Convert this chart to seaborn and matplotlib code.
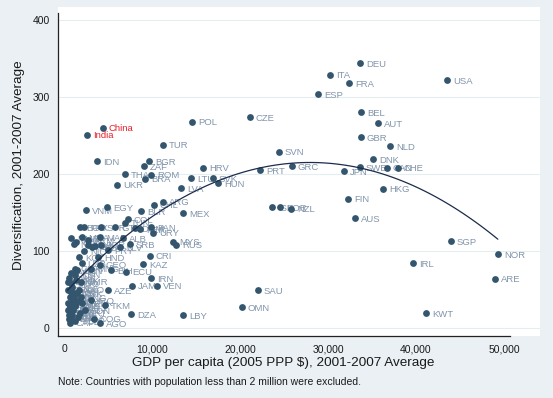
import matplotlib
matplotlib.use("Agg")
import matplotlib.pyplot as plt
import pandas as pd
import seaborn as sns

# country codes, GDP per capita (2005 PPP $) and diversification
codes = ["DEU", "ITA", "FRA", "USA", "ESP", "CZE", "BEL", "AUT", "GBR", "NLD",
         "SVN", "DNK", "PRT", "GRC", "JPN", "SWE", "CAN", "CHE", "HKG", "FIN",
         "AUS", "ISR", "KOR", "NZL", "SGP", "NOR", "IRL", "ARE", "SAU", "OMN",
         "KWT", "POL", "TUR", "BGR", "ZAF", "THA", "ROM", "BRA", "UKR", "HRV",
         "LTU", "SVK", "HUN", "LVA", "MEX", "ARG", "CHL", "BLR", "VNM", "EGY",
         "China", "India", "IDN", "MYS", "RUS", "CRI", "HND", "KAZ", "IRN", "VEN",
         "JAM", "AZE", "ECU", "DZA", "LBY", "AGO", "TKM", "PAN", "URY", "TUN",
         "COL", "DOM", "PER", "GTM", "SYR", "MAR", "ALB", "SLV", "SRB", "PRY",
         "BGD", "PAK", "PHL", "JOR", "LKA", "BOL", "MDA", "ARM", "KHM", "NIC",
         "KGZ", "NPL", "UZB", "MNG", "GEO", "BIH", "GHA", "KEN", "SEN", "CMR",
         "TJK", "ZWE", "MDG", "UGA", "COD", "LAO", "RWA", "TZA", "ETH", "HTI",
         "PNG", "GIN", "IRQ", "CIV", "BDI", "YEM", "MOZ", "ZMB", "SLE", "BEN",
         "BFA", "LBR", "SDN", "MWI", "MRT", "ERI", "MLI", "TGO", "NGA", "NER",
         "COG", "TCD", "CAF", "MMR", "SOM", "AFG", "PRK"]
gdp = [33630, 30220, 32380, 43500, 28850, 21130, 33740, 35670, 33740, 37030,
       24420, 35100, 22270, 25900, 31800, 33630, 36690, 37940, 36240, 32260,
       33060, 23630, 24540, 25790, 43960, 49300, 39650, 48960, 22040, 20220,
       41120, 14540, 11250, 9660, 9090, 6930, 9880, 9200, 6020, 15790,
       14430, 16930, 17490, 13290, 13520, 11250, 10220, 8750, 2500, 4890,
       4430, 2610, 3750, 12380, 12720, 9770, 3860, 8970, 9880, 10560,
       7730, 5000, 7040, 7610, 13520, 4090, 4660, 9880, 10110, 6930,
       7270, 8070, 8630, 5800, 4200, 4090, 6700, 6360, 7500, 5000,
       1820, 2270, 3180, 4200, 2730, 3520, 2040, 2730, 1360, 2300,
       1700, 1140, 2000, 3070, 4090, 5340, 1200, 1300, 1500, 1900,
       1400, 600, 850, 900, 450, 1700, 850, 1100, 700, 1100,
       1900, 1000, 3070, 1600, 400, 2100, 700, 1200, 700, 1300,
       1000, 500, 2390, 650, 1800, 600, 950, 800, 1600, 600,
       3400, 1300, 650, 800, 500, 800, 1500]
diversification = [344, 329, 318, 322, 304, 274, 280, 266, 248, 236,
                   229, 219, 205, 210, 204, 209, 208, 208, 181, 168,
                   143, 157, 157, 155, 113, 96, 84, 64, 49, 27,
                   19, 268, 238, 217, 210, 200, 199, 194, 186, 208,
                   195, 195, 188, 182, 149, 164, 160, 152, 153, 157,
                   260, 251, 217, 112, 108, 94, 92, 83, 65, 55,
                   55, 49, 73, 18, 17, 6, 30, 131, 124, 137,
                   141, 130, 128, 131, 131, 118, 117, 105, 109, 101,
                   131, 131, 105, 108, 108, 106, 118, 114, 112, 100,
                   92, 109, 84, 77, 82, 75, 77, 69, 75, 60,
                   62, 65, 58, 53, 50, 50, 47, 45, 40, 40,
                   40, 37, 36, 35, 33, 32, 30, 30, 27, 28,
                   24, 24, 23, 20, 20, 17, 17, 14, 14, 12,
                   12, 9, 7, 117, 60, 72, 45]
highlight = ["China", "India"]

x_ticks = [0, 10000, 20000, 30000, 40000, 50000]
y_ticks = [0, 100, 200, 300, 400]

df = pd.DataFrame({"code": codes, "gdp": gdp, "div": diversification})

BG = "#EAF0F3"
DOT = "#33556e"
LABEL = "#8195ab"

sns.set_style("white")
plt.rcParams["font.family"] = ["Liberation Sans", "DejaVu Sans"]

fig = plt.figure(figsize=(5.53, 3.98), dpi=100, facecolor=BG)
ax = fig.add_axes([58 / 553, 1 - 336 / 398, 482 / 553, 329 / 398])
ax.set_facecolor("white")

sns.scatterplot(data=df, x="gdp", y="div", color=DOT, s=24, linewidth=0,
                ax=ax, zorder=3)
sns.regplot(data=df, x="gdp", y="div", order=2, ci=None, scatter=False,
            line_kws={"color": "#1c2c4c", "lw": 0.9, "zorder": 4}, ax=ax)

# marker labels, to the right of each point
for _, row in df.iterrows():
    red = row["code"] in highlight
    ax.annotate(row["code"], (row["gdp"], row["div"]), xytext=(4.3, -0.8),
                textcoords="offset points", va="center", ha="left",
                fontsize=6.8, color="#e8202a" if red else LABEL,
                zorder=5 if red else 2)

ax.set_xlim(-682, 54090)
ax.set_ylim(-10.4, 417)
ax.set_xticks(x_ticks)
ax.set_xticklabels([f"{v:,}" for v in x_ticks])
ax.set_yticks(y_ticks)
ax.grid(axis="y", color="#E6EDF0", lw=0.8)
ax.set_axisbelow(True)

for side in ["top", "right"]:
    ax.spines[side].set_visible(False)
ax.spines["bottom"].set_bounds(-682, 50670)
ax.spines["left"].set_bounds(-10.4, 409)
for side in ["bottom", "left"]:
    ax.spines[side].set_color("#222222")
    ax.spines[side].set_linewidth(0.9)
ax.tick_params(direction="out", length=4, width=0.9, color="#222222",
               labelsize=7.5, labelcolor="#1a1a1a", pad=2)

ax.set_xlabel("GDP per capita (2005 PPP $), 2001-2007 Average",
              fontsize=9.7, color="#1a1a1a")
ax.xaxis.set_label_coords(0.467, -0.082)
ax.xaxis.label.set_va("center")
ax.set_ylabel("Diversification, 2001-2007 Average", fontsize=9.7,
              color="#1a1a1a")
ax.yaxis.set_label_coords(-0.081, 0.52)
ax.yaxis.label.set_va("center")

fig.text(58 / 553, 1 - 382 / 398,
         "Note: Countries with population less than 2 million were excluded.",
         fontsize=7.5, color="#1a1a1a", va="center", ha="left")

fig.savefig("out.png", dpi=100, facecolor=BG)
